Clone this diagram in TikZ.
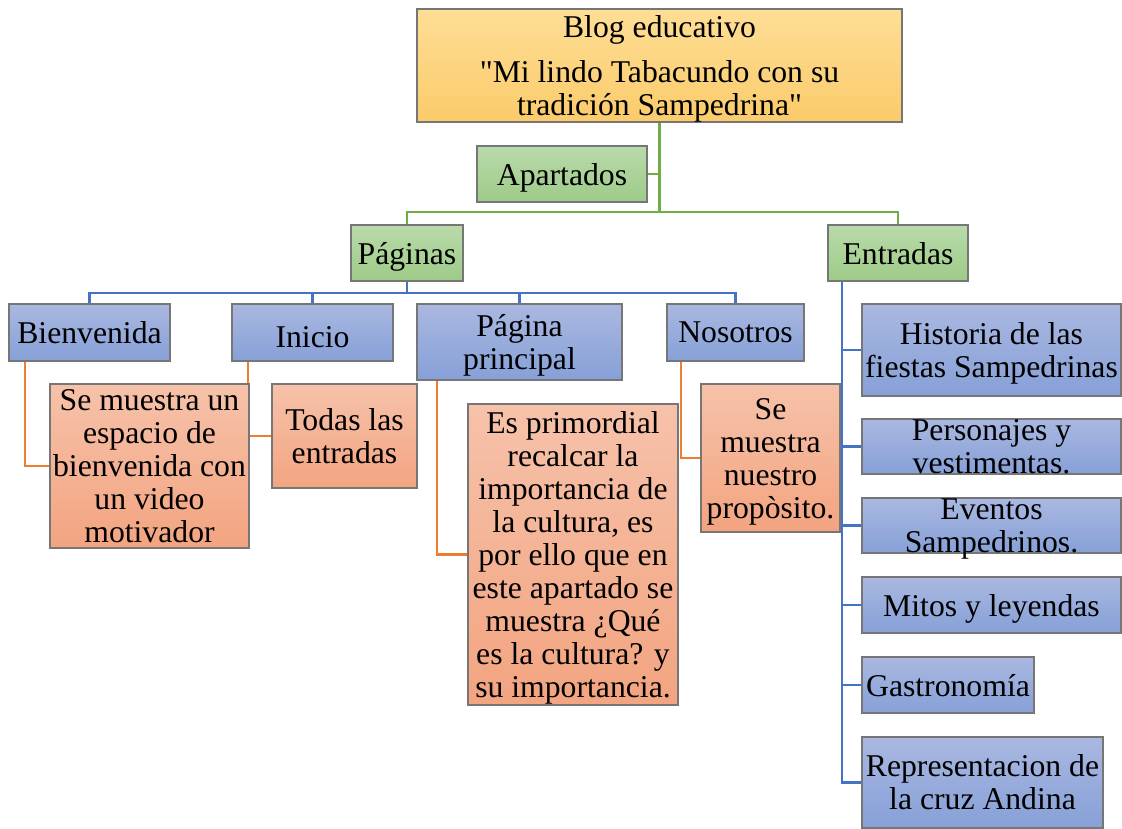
\documentclass[tikz,border=0pt]{standalone}
\usepackage{fontspec}
\setmainfont{Liberation Serif}[Ligatures=TeXOff]
\usetikzlibrary{positioning, backgrounds}

\definecolor{goldtop}{RGB}{254,222,150}
\definecolor{goldbot}{RGB}{251,203,106}
\definecolor{greentop}{RGB}{185,218,170}
\definecolor{greenbot}{RGB}{158,203,136}
\definecolor{bluetop}{RGB}{170,184,225}
\definecolor{bluebot}{RGB}{134,160,215}
\definecolor{orangetop}{RGB}{246,194,170}
\definecolor{orangebot}{RGB}{243,164,128}
\definecolor{boxborder}{RGB}{118,118,118}
\definecolor{linegreen}{RGB}{112,173,71}
\definecolor{lineblue}{RGB}{68,114,196}
\definecolor{lineorange}{RGB}{237,125,49}

% last line of a box: no depth, so the text sits as in the original
\newcommand{\flatline}[1]{\raisebox{0pt}[\height][0pt]{#1}}

\begin{document}
\begin{tikzpicture}[
    x=1pt, y=-1pt,
    font=\fontsize{31.7}{33}\selectfont,
    % Styles
    box/.style={
        draw=boxborder,
        line width=1.6pt,
        rectangle,
        align=center,
        inner xsep=2pt,
        inner ysep=0pt,
        outer sep=0pt,
        anchor=north west
    },
    single/.style={text depth=0pt},
    title_box/.style={box, top color=goldtop, bottom color=goldbot},
    group_box/.style={box, single, top color=greentop, bottom color=greenbot},
    page_box/.style={box, top color=bluetop, bottom color=bluebot},
    desc_box/.style={box, top color=orangetop, bottom color=orangebot},
    link_green/.style={draw=linegreen, line width=2.5pt},
    link_blue/.style={draw=lineblue, line width=2.5pt},
    link_orange/.style={draw=lineorange, line width=2.5pt}
]
    \useasboundingbox (0,0) rectangle (1122,828);

    % --- Title ---
    \node[title_box, minimum width=485, minimum height=113] (title) at (417,9)
        {Blog educativo\\[12pt]"Mi lindo Tabacundo con su\\\flatline{tradición Sampedrina"}};

    % --- GROUPS ---
    \node[group_box, minimum width=170, minimum height=56] (apartados) at (477,146) {Apartados};
    \node[group_box, minimum width=112, minimum height=56] (paginas) at (351,225) {Páginas};
    \node[group_box, minimum width=140, minimum height=56] (entradas) at (828,225) {Entradas};

    % --- PAGES ---
    \node[page_box, single, minimum width=161, minimum height=57] (bienvenida) at (9,304) {Bienvenida};
    \node[page_box, single, minimum width=161, minimum height=57] (inicio) at (232,304)
        {\raisebox{-4.5pt}[21pt][0pt]{Inicio}};
    \node[page_box, minimum width=205, minimum height=76] (principal) at (417,304)
        {Página\\\flatline{principal}};
    \node[page_box, single, minimum width=137, minimum height=57] (nosotros) at (667,304) {Nosotros};

    % Descriptions
    \node[desc_box, minimum width=199, minimum height=164] (bienvenida_txt) at (50,384)
        {Se muestra un\\espacio de\\bienvenida con\\un video\\motivador};
    \node[desc_box, minimum width=145, minimum height=104] (inicio_txt) at (272,384)
        {Todas las\\entradas};
    \node[desc_box, minimum width=210, minimum height=301] (principal_txt) at (468,404)
        {Es primordial\\recalcar la\\importancia de\\la cultura, es\\por ello que en\\este apartado se\\muestra ¿Qué\\es la cultura? y\\\flatline{su importancia.}};
    \node[desc_box, minimum width=139, minimum height=148] (nosotros_txt) at (701,384)
        {Se\\muestra\\nuestro\\\flatline{propòsito.}};

    % --- ENTRIES ---
    \node[page_box, minimum width=259, minimum height=92] (historia) at (862,304)
        {Historia de las\\\flatline{fiestas Sampedrinas}};
    \node[page_box, minimum width=259, minimum height=55, inner ysep=-4pt] (personajes) at (862,419)
        {Personajes y\\vestimentas.};
    \node[page_box, minimum width=259, minimum height=55, inner ysep=-4pt] (eventos) at (862,498)
        {Eventos\\\flatline{Sampedrinos.}};
    \node[page_box, single, minimum width=259, minimum height=56] (mitos) at (862,577) {Mitos y leyendas};
    \node[page_box, single, minimum width=172, minimum height=56] (gastronomia) at (862,657) {Gastronomía};
    \node[page_box, minimum width=241, minimum height=91] (representacion) at (862,737)
        {Representacion de\\la cruz Andina};

    % --- CONNECTORS ---
    \begin{scope}[on background layer]
        \coordinate (gbus) at (title.south |- 0,212);
        \draw[link_green] (title.south) -- (gbus);
        \draw[link_green] (apartados.east) -- (apartados.east -| title.south);
        \draw[link_green] (paginas.north) |- (gbus) -| (entradas.north);

        \coordinate (bbus) at (paginas.south |- 0,293);
        \draw[link_blue] (paginas.south) -- (bbus);
        \draw[link_blue] (bienvenida.north) |- (bbus) -| (nosotros.north);
        \draw[link_blue] (inicio.north) -- (inicio.north |- bbus);
        \draw[link_blue] (principal.north) -- (principal.north |- bbus);

        \draw[link_orange] ([xshift=16pt]bienvenida.south west) |- (bienvenida_txt.west);
        \draw[link_orange] ([xshift=16pt]inicio.south west) |- (inicio_txt.west);
        \draw[link_orange] ([xshift=20pt]principal.south west) |- (principal_txt.west);
        \draw[link_orange] ([xshift=14pt]nosotros.south west) |- (nosotros_txt.west);

        \coordinate (espine) at ([xshift=14pt]entradas.south west);
        \draw[link_blue] (espine) |- (historia.west);
        \draw[link_blue] (espine) |- (personajes.west);
        \draw[link_blue] (espine) |- (eventos.west);
        \draw[link_blue] (espine) |- (mitos.west);
        \draw[link_blue] (espine) |- (gastronomia.west);
        \draw[link_blue] (espine) |- (representacion.west);
    \end{scope}

\end{tikzpicture}
\end{document}
